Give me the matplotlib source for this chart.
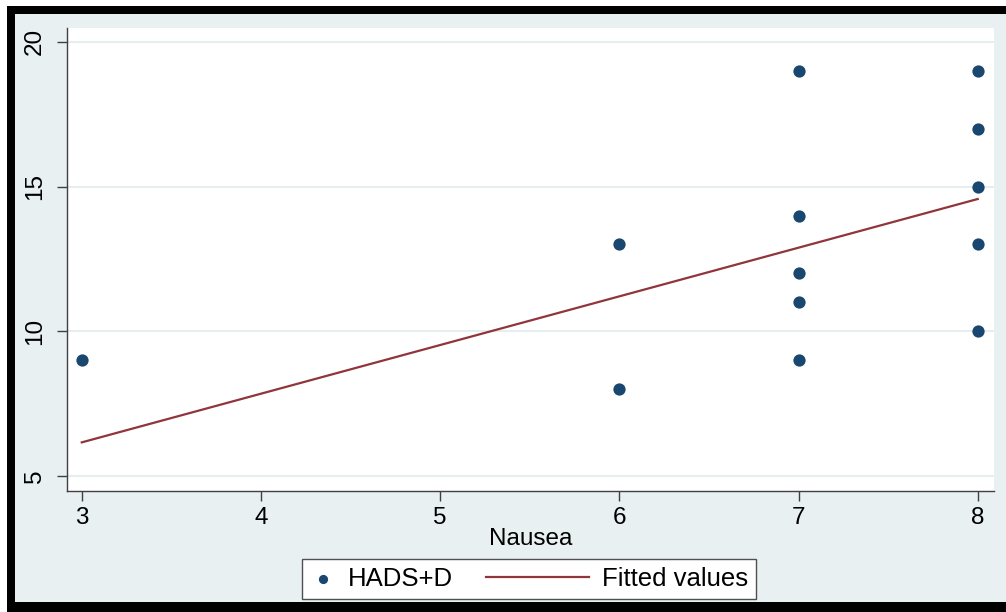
import matplotlib.pyplot as plt
from matplotlib.patches import Rectangle
from matplotlib.lines import Line2D
from matplotlib.legend_handler import HandlerBase

plt.rcParams["font.family"] = ["Liberation Sans", "DejaVu Sans"]

# HADS+D score against nausea score
nausea = [3, 6, 6, 7, 7, 7, 7, 7, 8, 8, 8, 8, 8]
hads_d = [9, 13, 8, 19, 14, 12, 11, 9, 19, 17, 15, 13, 10]

# fitted regression line (end points)
fit_x = [3, 8]
fit_y = [6.16, 14.57]

xticks = [3, 4, 5, 6, 7, 8]
yticks = [5, 10, 15, 20]

navy = "#1A476F"
maroon = "#90353B"
bg = "#E8F0F2"
W, H = 1006, 612
fs = 17.5


class LongLine(HandlerBase):
    # legend line that reaches back into the column gap
    def create_artists(self, legend, orig_handle, xdescent, ydescent,
                       width, height, fontsize, trans):
        y = height / 2 - ydescent
        ln = Line2D([-xdescent - 3.03 * width, width - xdescent], [y, y],
                    color=orig_handle.get_color(), lw=orig_handle.get_linewidth())
        ln.set_transform(trans)
        return [ln]


fig = plt.figure(figsize=(W / 100, H / 100), dpi=100, facecolor="white")

# black frame and graph region
fig.patches.append(Rectangle((7 / W, 0), 1, 1 - 6 / H, transform=fig.transFigure,
                             facecolor="black", edgecolor="none", zorder=-3))
fig.patches.append(Rectangle((15 / W, 10 / H), 1, 1 - 14 / H - 10 / H,
                             transform=fig.transFigure, facecolor=bg, edgecolor="none", zorder=-2))

ax = fig.add_axes([66.7 / W, 1 - 490.7 / H, (994 - 66.7) / W, (490.7 - 28) / H])
ax.set_facecolor("white")

ax.scatter(nausea, hads_d, s=78, color=navy, zorder=3, label="HADS+D", linewidths=0)
fit_line, = ax.plot(fit_x, fit_y, color=maroon, lw=1.6, zorder=2, label="Fitted values")

ax.set_xlim(2.916, 8.091)
ax.set_ylim(4.49, 20.48)
ax.set_xticks(xticks)
ax.set_yticks(yticks)
ax.yaxis.grid(True, color="#E6EEF0", lw=1.5)
ax.set_axisbelow(True)

for side in ["top", "right"]:
    ax.spines[side].set_visible(False)
for side in ["left", "bottom"]:
    ax.spines[side].set_color("#404040")
    ax.spines[side].set_linewidth(1.0)

ax.tick_params(axis="both", length=7, width=1, color="#404040", labelsize=fs)
ax.tick_params(axis="x", pad=5)
ax.tick_params(axis="y", pad=8)
for lab in ax.get_yticklabels():
    lab.set_rotation(90)
    lab.set_va("center")

ax.set_xlabel("Nausea", fontsize=fs, labelpad=-1)

leg = fig.legend(loc="lower center", bbox_to_anchor=(529 / W, 13 / H), ncol=2,
                 fontsize=18.5, frameon=True, fancybox=False, edgecolor="#505050",
                 facecolor="white", framealpha=1, borderaxespad=0,
                 handlelength=1.0, handletextpad=0.47, columnspacing=4.3,
                 borderpad=0.32, markerscale=0.75,
                 handler_map={fit_line: LongLine()})
leg.get_frame().set_linewidth(1.0)

fig.savefig("out.png", dpi=100, facecolor=fig.get_facecolor())
